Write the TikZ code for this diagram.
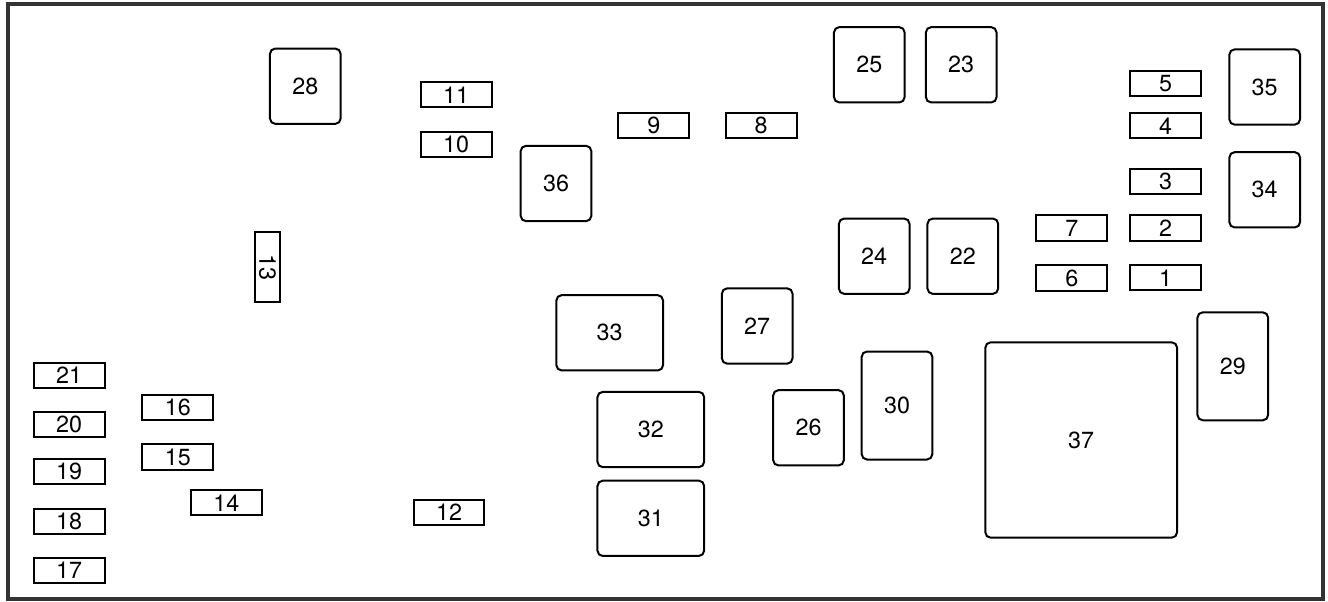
\documentclass[tikz,border=0pt]{standalone}
\usepackage{fontspec}
\setmainfont{TeX Gyre Heros}
\usepackage{tikz}
\usetikzlibrary{positioning}

\begin{document}
\begin{tikzpicture}[x=0.75pt, y=-0.75pt,
    every node/.style={font=\fontsize{17.5}{20}\selectfont, inner sep=0pt},
    fuse/.style={draw, line width=1.5pt, minimum width=53pt, minimum height=19pt},
    relay/.style={draw, line width=1.5pt, rounded corners=4pt, minimum width=53pt, minimum height=56.5pt},
    widerelay/.style={relay, minimum width=80pt},
    tallrelay/.style={relay, minimum height=81pt},
    boxframe/.style={draw=black!80, line width=2.4pt}]
  \useasboundingbox (0,0) rectangle (1328,601);
  \draw[boxframe] (8,4) rectangle (1323,599);

  % fuses
  \node[fuse] (f1) at (1165.7,277.8) {1};
  \node[fuse] (f2) at (1165.7,228) {2};
  \node[fuse] (f3) at (1165.7,181.3) {3};
  \node[fuse] (f4) at (1165.7,125.8) {4};
  \node[fuse] (f5) at (1165.7,83.3) {5};
  \node[fuse] (f6) at (1071.8,278) {6};
  \node[fuse] (f7) at (1071.8,228) {7};
  \node[fuse] (f8) at (761.2,125.8) {8};
  \node[fuse] (f9) at (653.8,125.8) {9};
  \node[fuse] (f10) at (456.2,144.2) {10};
  \node[fuse] (f11) at (456.2,94.8) {11};
  \node[fuse] (f12) at (449,512.2) {12};
  \node[fuse, rotate=-90] (f13) at (267.5,267) {13};
  \node[fuse] (f14) at (226.3,502.8) {14};
  \node[fuse] (f15) at (177.8,457) {15};
  \node[fuse] (f16) at (177.8,407.3) {16};
  \node[fuse] (f17) at (69.2,570.3) {17};
  \node[fuse] (f18) at (69.2,521.5) {18};
  \node[fuse] (f19) at (69.2,471.5) {19};
  \node[fuse] (f20) at (69.2,424.2) {20};
  \node[fuse] (f21) at (69.2,375.2) {21};

  % relays
  \node[relay] (r22) at (962.8,256.2) {22};
  \node[relay] (r23) at (961.2,64.8) {23};
  \node[relay] (r24) at (874.2,256.2) {24};
  \node[relay] (r25) at (869.3,64.8) {25};
  \node[relay] (r26) at (808.5,427.8) {26};
  \node[relay] (r27) at (757.2,326) {27};
  \node[relay] (r28) at (305.3,86.2) {28};
  \node[tallrelay] (r29) at (1232.8,366.3) {29};
  \node[tallrelay] (r30) at (897,405.5) {30};
  \node[widerelay] (r31) at (650.8,518.3) {31};
  \node[widerelay] (r32) at (650.8,429.5) {32};
  \node[widerelay] (r33) at (609.7,332.8) {33};
  \node[relay] (r34) at (1264.7,189.8) {34};
  \node[relay] (r35) at (1264.7,87) {35};
  \node[relay] (r36) at (556,183.5) {36};
  \node[relay, minimum width=143.8pt, minimum height=146.5pt] (r37) at (1081.2,440) {37};
\end{tikzpicture}
\end{document}
